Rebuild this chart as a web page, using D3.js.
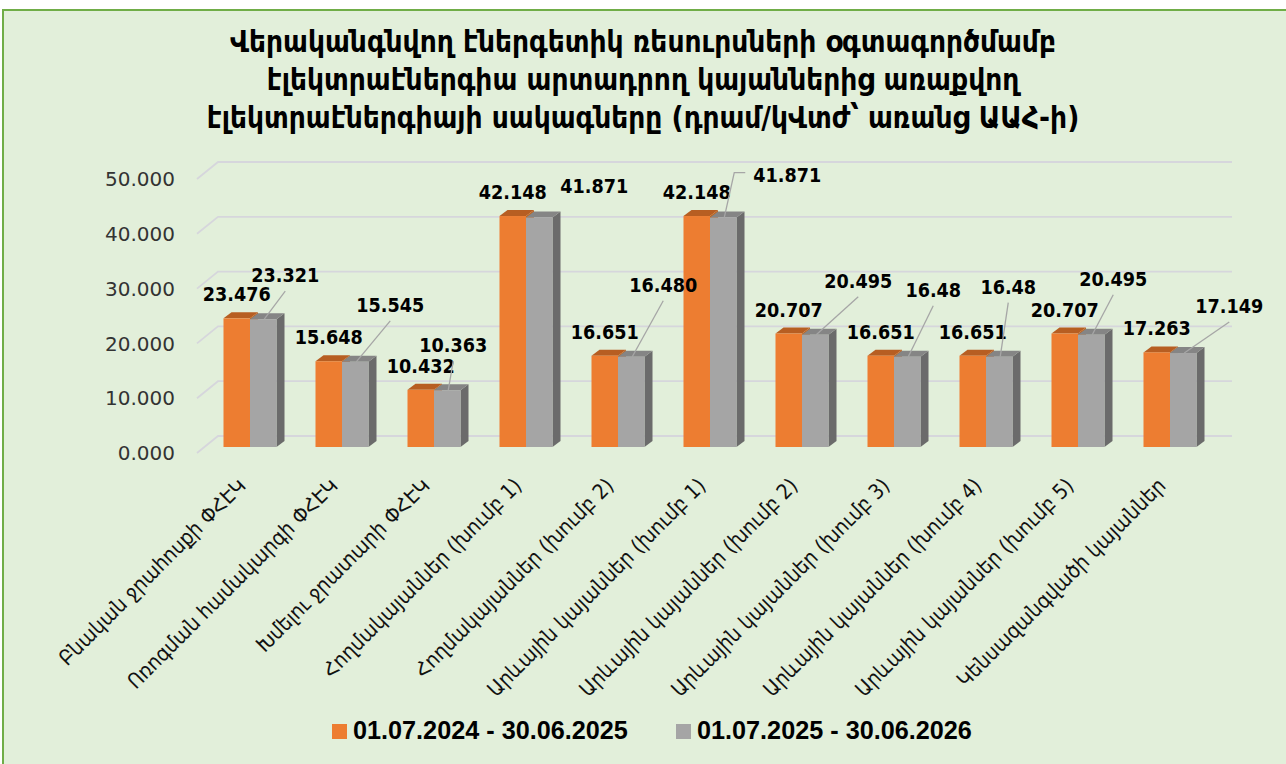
<!DOCTYPE html>
<html>
<head>
<meta charset="utf-8">
<script src="https://cdn.jsdelivr.net/npm/d3@7"></script>
<style>
  html, body { margin: 0; padding: 0; background: #fff; }
  svg { display: block; }
</style>
</head>
<body>
<div id="chart"></div>
<script>
const titleLines = [
  "Վերականգնվող էներգետիկ ռեսուրսների օգտագործմամբ",
  "էլեկտրաէներգիա արտադրող կայաններից առաքվող",
  "էլեկտրաէներգիայի սակագները (դրամ/կՎտժ՝ առանց ԱԱՀ-ի)"
];

const categories = [
  "Բնական ջրահոսքի ՓՀԷԿ",
  "Ոռոգման համակարգի ՓՀԷԿ",
  "Խմելու ջրատարի ՓՀԷԿ",
  "Հողմակայաններ (խումբ 1)",
  "Հողմակայաններ (խումբ 2)",
  "Արևային կայաններ (խումբ 1)",
  "Արևային կայաններ (խումբ 2)",
  "Արևային կայաններ (խումբ 3)",
  "Արևային կայաններ (խումբ 4)",
  "Արևային կայաններ (խումբ 5)",
  "Կենսազանգվածի կայաններ"
];

const seriesNames = ["01.07.2024 - 30.06.2025", "01.07.2025 - 30.06.2026"];

const values2024 = [23.476, 15.648, 10.432, 42.148, 16.651, 42.148, 20.707, 16.651, 16.651, 20.707, 17.263];
const values2025 = [23.321, 15.545, 10.363, 41.871, 16.480, 41.871, 20.495, 16.48, 16.48, 20.495, 17.149];
// labels as printed on the chart (some drop the trailing zero)
const labels2024 = ["23.476", "15.648", "10.432", "42.148", "16.651", "42.148", "20.707", "16.651", "16.651", "20.707", "17.263"];
const labels2025 = ["23.321", "15.545", "10.363", "41.871", "16.480", "41.871", "20.495", "16.48", "16.48", "20.495", "17.149"];

const yTicks = [0, 10, 20, 30, 40, 50];

// where the grey labels were dragged to (offset from bar top), and leader style
const grayLabelShift = [
  [22, -37, "line"], [35, -50, "line"], [6, -38, "line"], [55, -25, "none"],
  [32, -65, "line"], [64, -36, "elbow"], [43, -47, "line"], [26, -60, "line"],
  [9, -63, "line"], [22, -49, "line"], [46, -40, "line"]
];

const colors = {
  orange: { front: "#ED7D31", top: "#B75E22", side: "#C1641F" },
  gray:   { front: "#A5A5A5", top: "#858585", side: "#6B6B6B" }
};

const W = 1286, H = 764;
const wall = { dx: 21, dy: -17 };     // depth of the back wall
const barOff = { dx: 7, dy: -6 };     // bars sit a bit inside
const barDepth = { dx: 8, dy: -6 };

const svg = d3.select("#chart").append("svg")
  .attr("width", W).attr("height", H);

svg.append("rect")
  .attr("x", 3).attr("y", 10)
  .attr("width", W + 10).attr("height", H)
  .attr("fill", "#E2EFDA")
  .attr("stroke", "#70AD47")
  .attr("stroke-width", 2);

// shrink/grow a text selection so its first node is `target` px wide
function fitTo(sel, base, target, max) {
  const s = base * target / sel.nodes()[0].getComputedTextLength();
  sel.attr("font-size", Math.min(s, max));
}

// title
const title = svg.append("g")
  .attr("font-family", "'DejaVu Sans Condensed', 'DejaVu Sans', sans-serif")
  .attr("font-weight", "bold")
  .attr("fill", "#000")
  .attr("text-anchor", "middle");
const tLines = title.selectAll("text").data(titleLines).join("text")
  .attr("x", 643)
  .attr("y", (d, i) => 52 + i * 38)
  .attr("font-size", 24)
  .text(d => d);
fitTo(tLines, 24, 826, 30);

// scales
const y = d3.scaleLinear().domain([0, 50]).range([453, 179]);
const x0 = d3.scaleBand().domain(categories).range([197, 1209]);
const half = x0.bandwidth() / 2;
const x1 = d3.scaleBand().domain(seriesNames).range([half - 26.5, half + 26.5]);
const xEnd = x0.range()[1];

// gridlines with 3D floor/wall
svg.append("g").selectAll("path").data(yTicks).join("path")
  .attr("d", t => {
    const yy = y(t);
    return `M${x0.range()[0]},${yy} L${x0.range()[0] + wall.dx},${yy + wall.dy} L${xEnd + wall.dx + 2},${yy + wall.dy}`;
  })
  .attr("fill", "none")
  .attr("stroke", "#D6D6DC")
  .attr("stroke-width", 1.8);

// y tick labels
svg.append("g").selectAll("text").data(yTicks).join("text")
  .attr("x", 175)
  .attr("y", t => y(t))
  .attr("dy", "0.36em")
  .attr("text-anchor", "end")
  .attr("font-family", "'DejaVu Sans', sans-serif")
  .attr("font-size", 20)
  .attr("fill", "#333")
  .text(t => d3.format(".3f")(t));

// bars
const bars = svg.append("g");
function drawBar(cx, v, c) {
  const w = x1.bandwidth();
  const x = cx + barOff.dx;
  const top = y(v) + barOff.dy;
  const base = y(0) + barOff.dy;
  const g = bars.append("g");
  g.append("path")
    .attr("d", `M${x + w},${top} L${x + w + barDepth.dx},${top + barDepth.dy} L${x + w + barDepth.dx},${base + barDepth.dy} L${x + w},${base} Z`)
    .attr("fill", c.side);
  g.append("path")
    .attr("d", `M${x},${top} L${x + barDepth.dx},${top + barDepth.dy} L${x + w + barDepth.dx},${top + barDepth.dy} L${x + w},${top} Z`)
    .attr("fill", c.top);
  g.append("rect")
    .attr("x", x).attr("y", top)
    .attr("width", w).attr("height", base - top)
    .attr("fill", c.front);
}

categories.forEach((cat, i) => {
  drawBar(x0(cat) + x1(seriesNames[0]), values2024[i], colors.orange);
  drawBar(x0(cat) + x1(seriesNames[1]), values2025[i], colors.gray);
});

// data labels
const lbl = svg.append("g")
  .attr("font-family", "'DejaVu Sans Condensed', 'DejaVu Sans', sans-serif")
  .attr("font-weight", "bold")
  .attr("fill", "#000")
  .attr("text-anchor", "middle");
const probe = lbl.append("text").attr("font-size", 20).text(labels2024[0]);
const lblSize = Math.min(20 * 68 / probe.node().getComputedTextLength(), 23);
probe.remove();
lbl.attr("font-size", lblSize);

categories.forEach((cat, i) => {
  const w = x1.bandwidth();
  const oc = x0(cat) + x1(seriesNames[0]) + barOff.dx + w / 2;
  const oTop = y(values2024[i]) + barOff.dy;
  lbl.append("text").attr("x", oc).attr("y", oTop - 17).text(labels2024[i]);

  const gc = x0(cat) + x1(seriesNames[1]) + barOff.dx + w / 2;
  const gTop = y(values2025[i]) + barOff.dy;
  const [sx, sy, mode] = grayLabelShift[i];
  const lx = gc + sx, ly = gTop + sy;
  const t = lbl.append("text").attr("x", lx).attr("y", ly).text(labels2025[i]);
  const tw = t.node().getComputedTextLength();
  let pts = null;
  if (mode === "line") pts = [[gc + 1, gTop], [lx, ly + 9]];
  if (mode === "elbow") pts = [[gc + 1, gTop], [lx - tw / 2 - 19, ly - 9], [lx - tw / 2 - 8, ly - 9]];
  if (pts) {
    svg.append("path")
      .attr("d", d3.line()(pts))
      .attr("fill", "none")
      .attr("stroke", "#A6A6A6")
      .attr("stroke-width", 1.3);
  }
});

// category labels, rotated
const cl = svg.append("g")
  .attr("font-family", "'DejaVu Sans Condensed', 'DejaVu Sans', sans-serif")
  .attr("fill", "#111")
  .attr("text-anchor", "end");
const catText = cl.selectAll("text").data(categories).join("text")
  .attr("transform", d => `translate(${x0(d) + half + 4},487) rotate(-45)`)
  .attr("font-size", 17)
  .text(d => d);
fitTo(catText, 17, 262, 21);

// legend
const leg = svg.append("g")
  .attr("font-family", "'Liberation Sans', Arial, sans-serif")
  .attr("font-weight", "bold")
  .attr("fill", "#000");
const legX = [332, 676];
const legText = leg.selectAll("text").data(seriesNames).join("text")
  .attr("x", (d, i) => legX[i] + 21)
  .attr("y", 739)
  .attr("font-size", 23)
  .text(d => d);
fitTo(legText, 23, 275, 27);
leg.selectAll("rect").data(seriesNames).join("rect")
  .attr("x", (d, i) => legX[i]).attr("y", 724)
  .attr("width", 15).attr("height", 15)
  .attr("fill", (d, i) => i === 0 ? colors.orange.front : colors.gray.front);
</script>
</body>
</html>
